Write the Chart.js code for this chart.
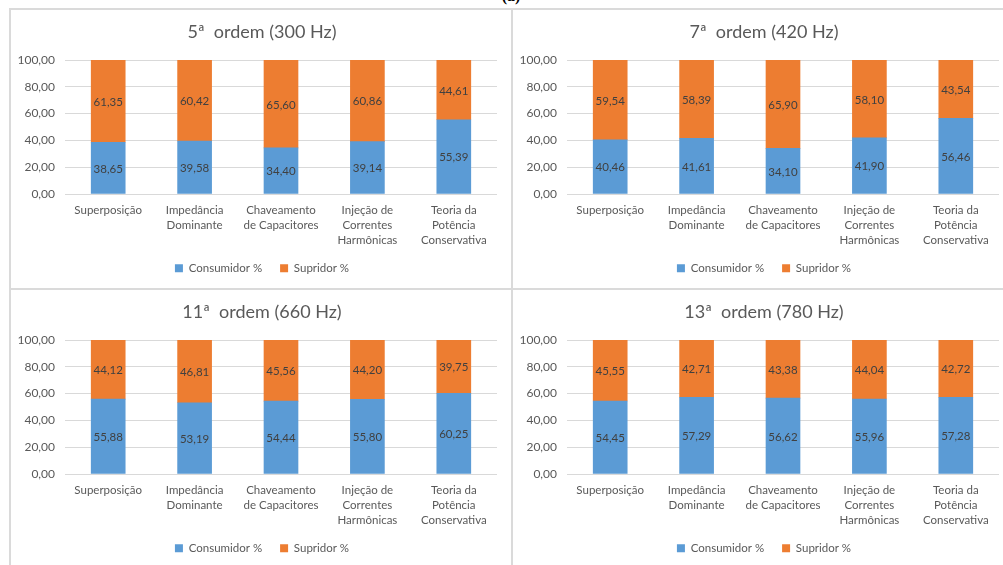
<!DOCTYPE html>
<html lang="pt">
<head>
<meta charset="utf-8">
<script src="https://cdn.jsdelivr.net/npm/chart.js@4.4.1/dist/chart.umd.min.js"></script>
<style>
  html, body { margin: 0; padding: 0; background: #fff; }
  body { width: 1003px; height: 565px; overflow: hidden; position: relative; }
  .panel { position: absolute; }
  .line { position: absolute; background: #dadada; }
  .caption { position: absolute; left: 0; width: 1022px; top: -13px; text-align: center;
             font: bold 16px "Liberation Serif", serif; color: #000; }
</style>
</head>
<body>
<div class="caption">(a)</div>
<div class="line" style="left:9px;top:8px;width:994px;height:2px"></div>
<div class="line" style="left:9px;top:8px;width:2px;height:557px"></div>
<div class="line" style="left:511px;top:8px;width:2px;height:557px"></div>
<div class="line" style="left:9px;top:288px;width:994px;height:2px"></div>

<canvas class="panel" id="c5" width="502" height="279" style="left:11px;top:10px"></canvas>
<canvas class="panel" id="c7" width="502" height="279" style="left:513px;top:10px"></canvas>
<canvas class="panel" id="c11" width="502" height="279" style="left:11px;top:290px"></canvas>
<canvas class="panel" id="c13" width="502" height="279" style="left:513px;top:290px"></canvas>

<script>
const categories = [
  "Superposição",
  ["Impedância", "Dominante"],
  ["Chaveamento", "de Capacitores"],
  ["Injeção de", "Correntes", "Harmônicas"],
  ["Teoria da", "Potência", "Conservativa"]
];
const seriesNames = ["Consumidor %", "Supridor %"];
const yTicks = [0, 20, 40, 60, 80, 100];

const consumidor5 = [38.65, 39.58, 34.40, 39.14, 55.39];
const supridor5 = [61.35, 60.42, 65.60, 60.86, 44.61];
const consumidor7 = [40.46, 41.61, 34.10, 41.90, 56.46];
const supridor7 = [59.54, 58.39, 65.90, 58.10, 43.54];
const consumidor11 = [55.88, 53.19, 54.44, 55.80, 60.25];
const supridor11 = [44.12, 46.81, 45.56, 44.20, 39.75];
const consumidor13 = [54.45, 57.29, 56.62, 55.96, 57.28];
const supridor13 = [45.55, 42.71, 43.38, 44.04, 42.72];

const BLUE = "#5b9bd5";
const ORANGE = "#ed7d31";
const TEXT = "#595959";
const FONT = "Lato, 'Open Sans', sans-serif";

const fmt = v => v.toFixed(2).replace(".", ",");

// writes each segment's value in the middle of its bar
const barValues = {
  id: "barValues",
  afterDatasetsDraw(chart) {
    const ctx = chart.ctx;
    ctx.save();
    ctx.font = "11.5px " + FONT;
    ctx.fillStyle = "#404040";
    ctx.textAlign = "center";
    ctx.textBaseline = "middle";
    chart.data.datasets.forEach((ds, i) => {
      chart.getDatasetMeta(i).data.forEach((bar, j) => {
        ctx.fillText(fmt(ds.data[j]), bar.x, (bar.y + bar.base) / 2 + 1);
      });
    });
    ctx.restore();
  }
};

function makeChart(id, title, consumidor, supridor) {
  const ctx = document.getElementById(id).getContext("2d");
  return new Chart(ctx, {
    type: "bar",
    data: {
      labels: categories,
      datasets: [
        { label: seriesNames[0], data: consumidor, backgroundColor: BLUE },
        { label: seriesNames[1], data: supridor, backgroundColor: ORANGE }
      ]
    },
    options: {
      responsive: false,
      animation: false,
      devicePixelRatio: 1,
      barThickness: 34,
      layout: { padding: { left: 0, right: 0, top: 0, bottom: 5 } },
      scales: {
        x: {
          stacked: true,
          grid: { display: false, drawTicks: false },
          border: { display: false },
          ticks: {
            color: TEXT,
            padding: 9,
            maxRotation: 0,
            autoSkip: false,
            font: { family: FONT, size: 11.5, lineHeight: 1.3 }
          },
          afterFit(scale) { scale.height = 50.5; }
        },
        y: {
          stacked: true,
          min: 0,
          max: 100,
          afterBuildTicks(scale) { scale.ticks = yTicks.map(v => ({ value: v })); },
          grid: { color: "#d9d9d9", drawTicks: false },
          border: { display: false },
          ticks: {
            color: TEXT,
            padding: 10,
            font: { family: FONT, size: 12 },
            callback: v => fmt(v)
          },
          afterFit(scale) { scale.width = 54; }
        },
        // empty right-hand margin, keeps title and legend centred on the whole panel
        spacer: {
          type: "linear",
          position: "right",
          grid: { display: false },
          border: { display: false },
          ticks: { display: false },
          afterFit(scale) { scale.width = 16; }
        }
      },
      plugins: {
        title: {
          display: true,
          text: title,
          color: TEXT,
          padding: { top: 11, bottom: 17.4 },
          font: { family: FONT, size: 18, weight: "normal", lineHeight: 1.2 }
        },
        legend: {
          position: "bottom",
          labels: {
            color: TEXT,
            boxWidth: 8,
            boxHeight: 8,
            padding: 18,
            font: { family: FONT, size: 11.5 }
          }
        },
        tooltip: { enabled: false }
      }
    },
    plugins: [barValues]
  });
}

makeChart("c5", "5ª  ordem (300 Hz)", consumidor5, supridor5);
makeChart("c7", "7ª  ordem (420 Hz)", consumidor7, supridor7);
makeChart("c11", "11ª  ordem (660 Hz)", consumidor11, supridor11);
makeChart("c13", "13ª  ordem (780 Hz)", consumidor13, supridor13);
</script>
</body>
</html>
